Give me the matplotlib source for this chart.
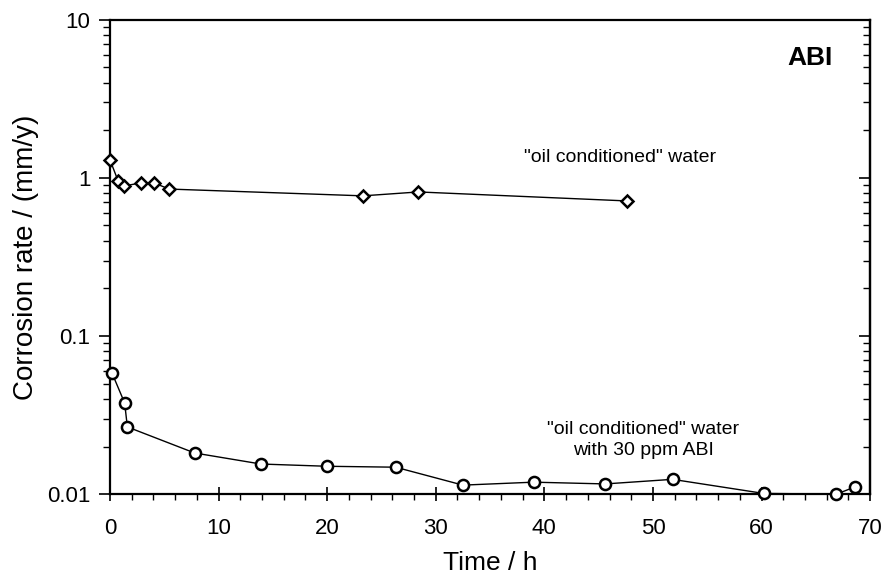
import matplotlib
matplotlib.use("Agg")
import matplotlib.pyplot as plt
from matplotlib.ticker import FixedLocator, LogLocator, NullFormatter

plt.rcParams['font.family'] = ['Liberation Sans', 'DejaVu Sans']

# "oil conditioned" water
t_oil = [0.0, 0.74, 1.29, 2.9, 4.05, 5.45, 23.3, 28.4, 47.6]
rate_oil = [1.30, 0.96, 0.89, 0.93, 0.93, 0.85, 0.77, 0.815, 0.715]

# "oil conditioned" water with 30 ppm ABI
t_abi = [0.2, 1.35, 1.6, 7.8, 13.9, 20.0, 26.3, 32.5, 39.0, 45.6, 51.8, 60.2, 66.9, 68.6]
rate_abi = [0.058, 0.0377, 0.0266, 0.0182, 0.0155, 0.0150, 0.0148, 0.0114,
            0.0119, 0.0116, 0.0124, 0.0101, 0.0100, 0.0111]

x_ticks = [0, 10, 20, 30, 40, 50, 60, 70]
y_ticks = [0.01, 0.1, 1, 10]
y_tick_labels = ['0.01', '0.1', '1', '10']

fig = plt.figure(figsize=(8.87, 5.82), dpi=100)
ax = fig.add_axes([0.124, 0.151, 0.857, 0.815])

ax.plot(t_oil, rate_oil, color='black', lw=1.0, marker='D', markersize=6,
        markerfacecolor='white', markeredgecolor='black', markeredgewidth=1.8,
        clip_on=False, zorder=3)
ax.plot(t_abi, rate_abi, color='black', lw=1.0, marker='o', markersize=8,
        markerfacecolor='white', markeredgecolor='black', markeredgewidth=1.8,
        clip_on=False, zorder=3)

ax.set_yscale('log')
ax.set_xlim(0, 70)
ax.set_ylim(0.01, 10)
ax.set_xticks(x_ticks)
ax.set_xticklabels([str(v) for v in x_ticks])
ax.xaxis.set_minor_locator(FixedLocator(range(0, 71, 2)))
ax.set_yticks(y_ticks)
ax.set_yticklabels(y_tick_labels)
ax.yaxis.set_minor_locator(LogLocator(base=10, subs=range(2, 10)))
ax.yaxis.set_minor_formatter(NullFormatter())

ax.tick_params(axis='both', which='major', labelsize=16, width=1.2)
ax.tick_params(axis='x', which='major', direction='inout', length=10, pad=12)
ax.tick_params(axis='y', which='major', direction='out', length=8, pad=6)
ax.tick_params(axis='x', which='minor', direction='out', length=4, width=1)
ax.tick_params(axis='y', which='minor', direction='out', length=5, width=1)

# right-hand axis: ticks pointing inward, no labels
ax_r = ax.secondary_yaxis('right')
ax_r.set_yticks(y_ticks)
ax_r.yaxis.set_minor_locator(LogLocator(base=10, subs=range(2, 10)))
ax_r.yaxis.set_minor_formatter(NullFormatter())
ax_r.tick_params(which='both', direction='in', labelright=False)
ax_r.tick_params(which='major', length=8, width=1.2)
ax_r.tick_params(which='minor', length=5, width=1)
ax_r.spines['right'].set_linewidth(1.6)

for s in ax.spines.values():
    s.set_linewidth(1.6)

ax.set_xlabel('Time / h', fontsize=19, labelpad=9)
ax.set_ylabel('Corrosion rate / (mm/y)', fontsize=20, labelpad=6)

ax.text(0.951, 0.945, 'ABI', transform=ax.transAxes, ha='right', va='top',
        fontsize=19, fontweight='bold')
ax.text(47.0, 1.34, '"oil conditioned" water', ha='center', va='center',
        fontsize=14)
ax.text(49.1, 0.022, '"oil conditioned" water\nwith 30 ppm ABI',
        ha='center', va='center', fontsize=14, linespacing=1.25)

fig.savefig('out.png', dpi=100)
